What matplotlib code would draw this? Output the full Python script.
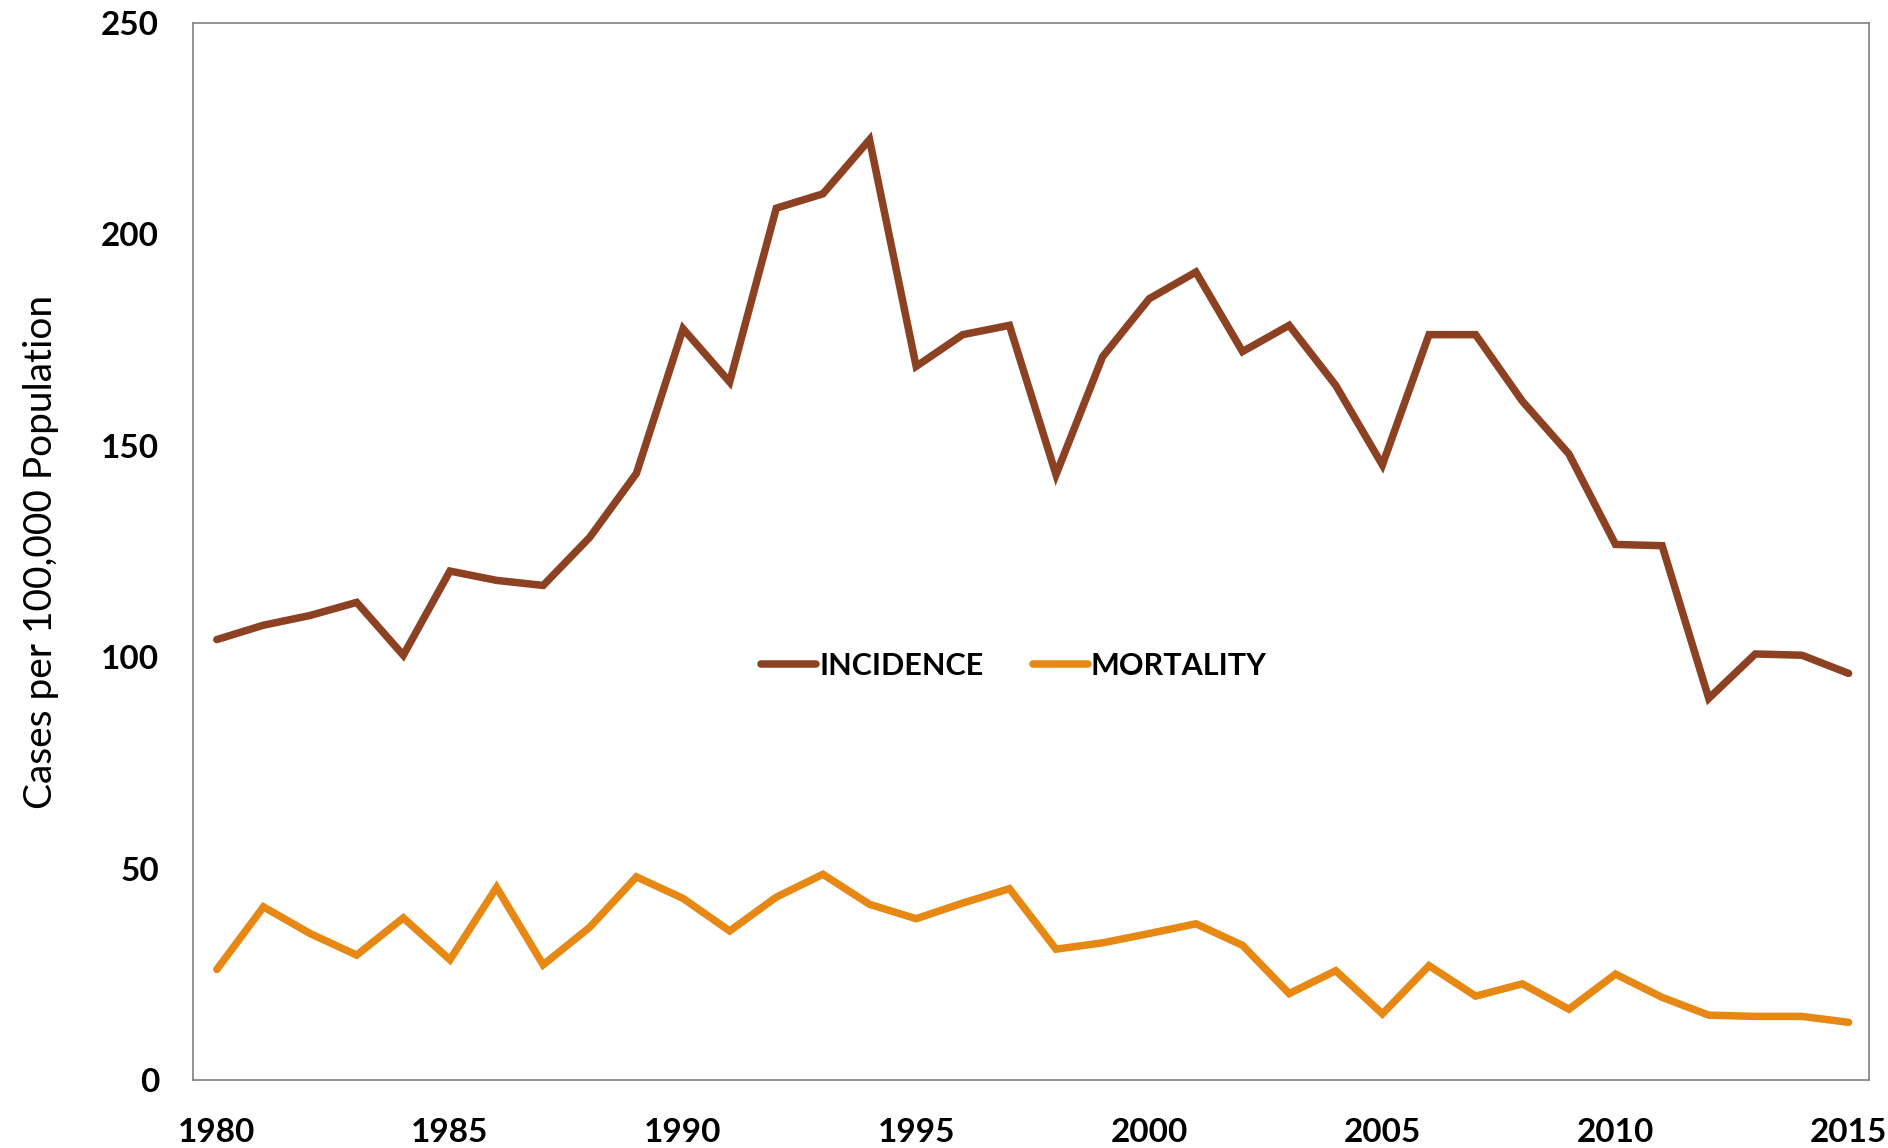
import matplotlib
matplotlib.use('Agg')
import matplotlib.pyplot as plt

# 年份与数据
years = list(range(1980, 2016))
incidence = [104.2, 107.6, 109.9, 113.0, 100.5, 120.4, 118.2, 117.0, 128.4, 143.5,
             177.7, 165.1, 206.2, 209.6, 222.4, 168.8, 176.3, 178.5, 143.2, 171.1,
             184.8, 191.1, 172.3, 178.5, 164.3, 145.5, 176.3, 176.3, 160.6, 148.1,
             126.7, 126.4, 90.3, 100.8, 100.5, 96.2]
mortality = [26.2, 41.0, 34.7, 29.6, 38.4, 28.5, 45.6, 27.3, 36.2, 48.1,
             43.0, 35.3, 43.3, 48.7, 41.6, 38.2, 41.9, 45.3, 31.0, 32.5,
             34.7, 37.0, 31.9, 20.5, 25.9, 15.7, 27.1, 19.9, 22.8, 16.8,
             25.1, 19.6, 15.4, 15.1, 15.1, 13.7]
x_ticks = [1980, 1985, 1990, 1995, 2000, 2005, 2010, 2015]
y_ticks = [0, 50, 100, 150, 200, 250]

plt.rcParams['font.family'] = ['Lato', 'DejaVu Sans']

fig = plt.figure(figsize=(18.88, 11.48), dpi=100)
ax = fig.add_axes([0.102, 0.059, 0.888, 0.921])

ax.plot(years, incidence, color='#8B4122', linewidth=5.4, label='INCIDENCE',
        solid_capstyle='round', solid_joinstyle='miter')
ax.plot(years, mortality, color='#E68813', linewidth=5.4, label='MORTALITY',
        solid_capstyle='round', solid_joinstyle='miter')

ax.set_xlim(1979.48, 2015.44)
ax.set_ylim(0, 250)
ax.set_xticks(x_ticks)
ax.set_yticks(y_ticks)
ax.tick_params(length=0, labelsize=24)
ax.tick_params(axis='x', pad=27)
ax.tick_params(axis='y', pad=24)
for lab in ax.get_xticklabels() + ax.get_yticklabels():
    lab.set_fontweight('bold')

for sp in ax.spines.values():
    sp.set_color('#808080')
    sp.set_linewidth(1.2)

ax.set_ylabel('Cases per 100,000 Population', fontsize=28, labelpad=30)

leg = ax.legend(loc='center', bbox_to_anchor=(0.49, 0.392), ncol=2, frameon=False,
                prop={'weight': 'bold', 'size': 22}, handlelength=1.8,
                handletextpad=0.1, columnspacing=1.6)

fig.savefig('out.png', dpi=100)
